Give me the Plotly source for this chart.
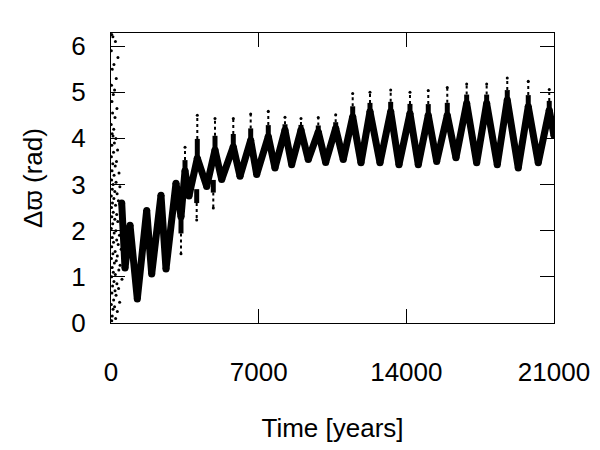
import plotly.graph_objects as go

# ---- data ----
# centre line of the dense oscillating band (alternating peaks / troughs)
band_t = [507, 664, 901, 1247, 1692, 1929, 2370, 2607, 3081, 3318, 3508, 3697,
          4091, 4536, 4930, 5247, 5797, 6115, 6622, 6906, 7456, 7774, 8248, 8565,
          9006, 9352, 9826, 10177, 10651, 11011, 11457, 11850, 12277, 12751, 13258,
          13651, 14173, 14566, 15040, 15438, 15941, 16353, 16860, 17334, 17808,
          18311, 18785, 19306, 19780, 20254, 20775, 21000]
band_v = [2.60, 1.19, 2.12, 0.52, 2.44, 1.06, 2.77, 1.17, 3.03, 2.30, 3.30, 2.75,
          3.57, 2.96, 3.75, 3.11, 3.82, 3.18, 3.96, 3.22, 4.04, 3.36, 4.18, 3.43,
          4.18, 3.54, 4.14, 3.48, 4.22, 3.54, 4.47, 3.47, 4.58, 3.47, 4.58,
          3.43, 4.54, 3.43, 4.50, 3.50, 4.50, 3.58, 4.76, 3.47, 4.76,
          3.43, 4.83, 3.36, 4.69, 3.47, 4.61, 4.06]

# sparse spikes beyond the peaks: time, base value, tip value
spike_t = [3508, 4091, 4930, 5797, 6622, 7456, 8248, 9006, 9826, 10651, 11457,
           12277, 13258, 14173, 15040, 15941, 16860, 17808, 18785, 19780, 20775,
           3318, 4062, 4849]
spike_base = [3.30, 3.57, 3.75, 3.82, 3.96, 4.04, 4.18, 4.18, 4.14, 4.22, 4.47,
              4.58, 4.58, 4.54, 4.50, 4.50, 4.76, 4.76, 4.83, 4.69, 4.61,
              2.30, 2.90, 3.10]
spike_tip = [3.81, 4.50, 4.43, 4.43, 4.53, 4.59, 4.46, 4.43, 4.45, 4.51, 4.97,
             5.00, 5.05, 5.00, 5.04, 5.10, 5.18, 5.18, 5.31, 5.24, 5.06,
             1.50, 2.23, 2.49]

# scattered points of the initial circulating phase
early_t = [35, 210, 90, 15, 330, 140, 60, 250, 25, 170, 110, 45, 280, 75, 190, 10, 130, 55, 230, 95,
           160, 40, 310, 120, 20, 260, 85, 200, 50, 380, 145, 30, 240, 100, 420, 65, 180, 290, 15, 135,
           350, 70, 215, 25,
           450, 105, 270, 40, 180, 320, 80, 500, 15, 230, 150, 400, 60, 270, 120, 340, 35, 480, 195,
           90, 300, 20, 250, 160, 430, 55, 370, 110, 205, 30, 520, 140, 280, 75, 360, 190, 45, 240,
           125, 410, 15, 170, 95, 300, 60, 220, 35]
early_v = [6.25, 6.10, 6.20, 5.90, 5.75, 5.60, 5.50, 5.30, 5.15, 5.05, 4.95, 4.80, 4.65, 4.55,
           4.45, 4.30, 4.20, 4.10, 4.00, 4.05,
           3.90, 3.85, 3.75, 3.70, 3.60, 3.50, 3.45, 3.40, 3.30, 3.25, 3.20, 3.10, 3.05, 3.00,
           2.95, 2.90, 2.85, 2.80, 2.75, 2.70, 2.65, 2.60, 2.55, 2.50,
           2.45, 2.40, 2.35, 2.30, 2.25, 2.20, 2.15, 2.10, 2.05, 2.00, 1.95, 1.90, 1.85, 1.80,
           1.75, 1.70, 1.65, 1.60, 1.55, 1.50, 1.45, 1.40, 1.35, 1.30, 1.25, 1.20, 1.15, 1.10,
           1.05, 1.00, 0.95, 0.90, 0.85, 0.80, 0.75, 0.70, 0.65, 0.60, 0.50, 0.45, 0.40, 0.35,
           0.30, 0.25, 0.15, 0.10, 0.05]

x_ticks = [0, 7000, 14000, 21000]
y_ticks = [0, 1, 2, 3, 4, 5, 6]

# ---- figure ----
# spikes drawn in two pieces: thicker near the band, thin towards the tip
sx_lo, sy_lo, sx_hi, sy_hi = [], [], [], []
for t, b, tp in zip(spike_t, spike_base, spike_tip):
    mid = b + 0.45 * (tp - b)
    sx_lo += [t, t, None]
    sy_lo += [b, mid, None]
    sx_hi += [t, t, None]
    sy_hi += [mid, tp, None]

fig = go.Figure()
fig.add_trace(go.Scatter(x=band_t, y=band_v, mode="lines+markers",
                         line=dict(color="black", width=7),
                         marker=dict(color="black", size=7), hoverinfo="skip"))
fig.add_trace(go.Scatter(x=sx_lo, y=sy_lo, mode="lines",
                         line=dict(color="black", width=5), hoverinfo="skip"))
fig.add_trace(go.Scatter(x=sx_hi, y=sy_hi, mode="lines",
                         line=dict(color="black", width=2, dash="dot"), hoverinfo="skip"))
fig.add_trace(go.Scatter(x=spike_t, y=spike_tip, mode="markers",
                         marker=dict(color="black", size=3), hoverinfo="skip"))
fig.add_trace(go.Scatter(x=early_t, y=early_v, mode="markers",
                         marker=dict(color="black", size=3), hoverinfo="skip"))

font = dict(family="Liberation Sans, Arial, sans-serif", size=26, color="black")
fig.update_layout(
    width=600, height=450,
    margin=dict(l=111, r=46, t=33, b=127),
    paper_bgcolor="white", plot_bgcolor="white",
    showlegend=False, font=font,
)
fig.update_xaxes(range=[0, 21000], tickvals=x_ticks, ticktext=[str(v) for v in x_ticks],
                 ticks="inside", ticklen=14, tickcolor="black", mirror="allticks",
                 showline=True, linecolor="black", linewidth=1, showgrid=False,
                 zeroline=False, ticklabelstandoff=26, automargin=False,
                 title=dict(text="Time [years]", standoff=32, font=font))
fig.update_yaxes(range=[0, 6.2832], tickvals=y_ticks,
                 ticks="inside", ticklen=14, tickcolor="black", mirror="allticks",
                 showline=True, linecolor="black", linewidth=1, showgrid=False,
                 zeroline=False, ticklabelstandoff=19, automargin=False,
                 title=dict(text="Δϖ (rad)", standoff=21, font=font))

fig.write_html("out.html")
